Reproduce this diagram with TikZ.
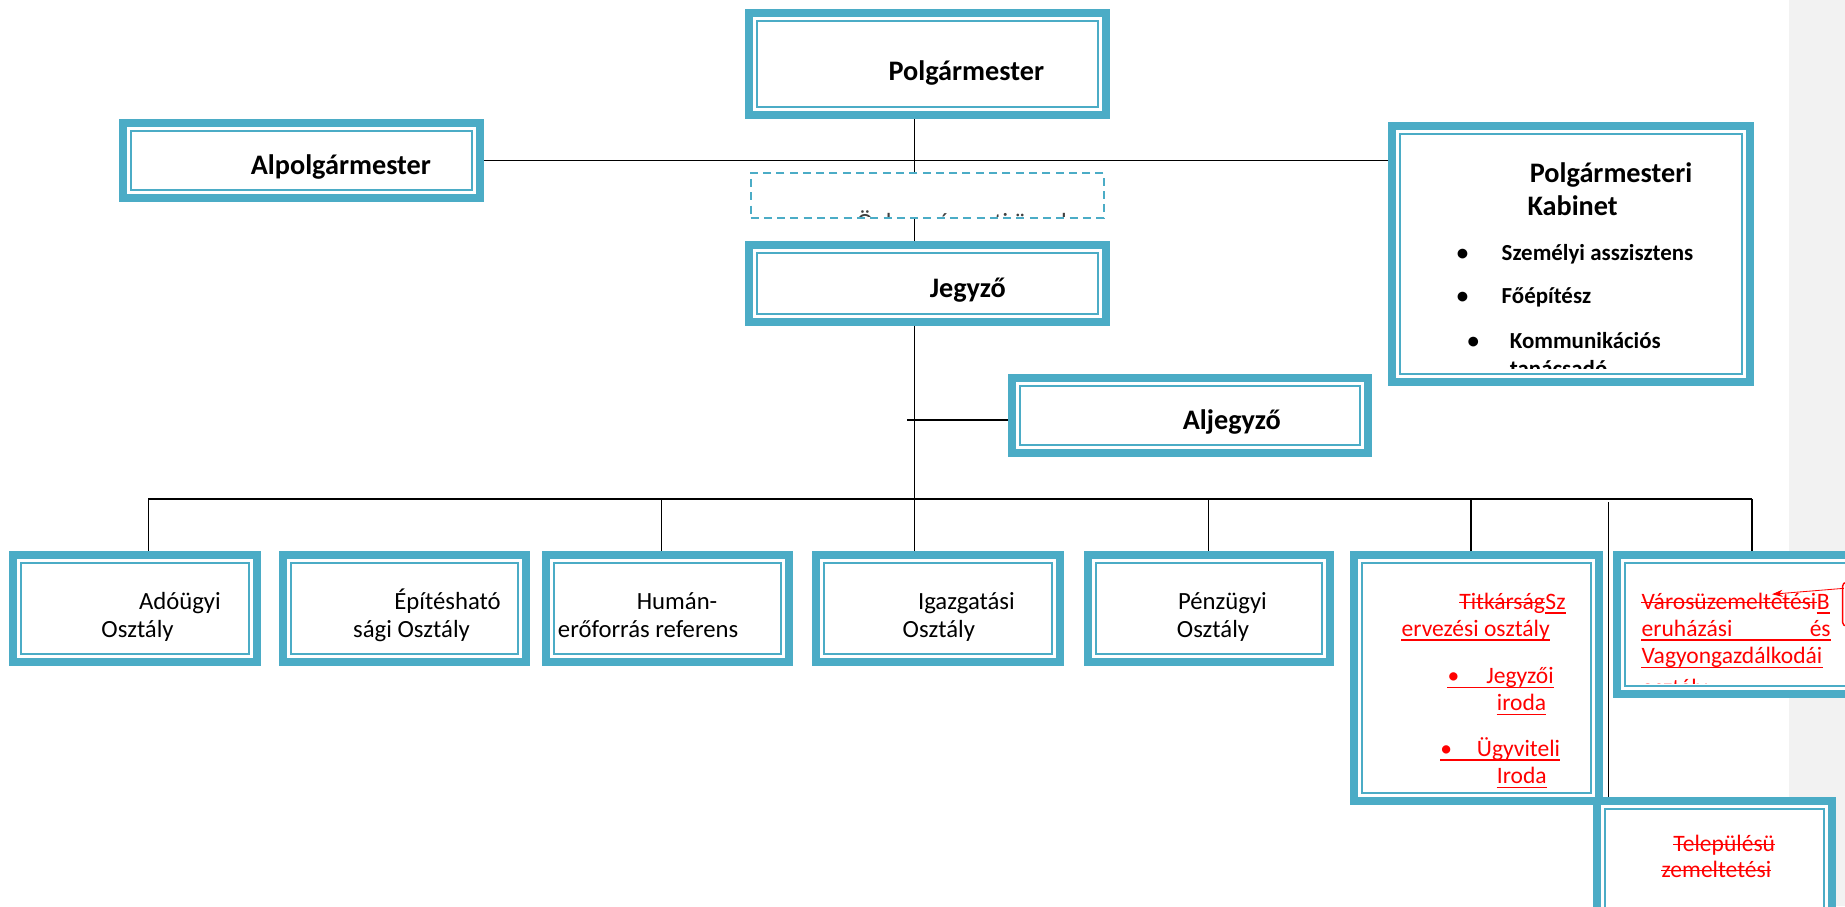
\documentclass[tikz,border=0pt]{standalone}
\usepackage{fontspec}
\setmainfont{Carlito}
\usetikzlibrary{arrows.meta}
\definecolor{teal5}{HTML}{4BACC6}
\definecolor{redc}{HTML}{FF0000}
\definecolor{graybg}{HTML}{F2F2F2}
\definecolor{dashtxt}{HTML}{404040}
\pgfdeclarelayer{bg}
\pgfsetlayers{bg,main}
\newcommand\boxat[5]{\node[obox, minimum width={#4-#2-6.8}, minimum height={#5-#3-6.8}] (#1) at ({(#2+#4)/2},{(#3+#5)/2}) {};}
\newcommand\redul[2]{\draw[redline] ([yshift=-3pt]#1.base west) -- ([yshift=-3pt]#2.base east);}
\newcommand\redso[1]{\draw[redline] ([yshift=6pt]#1.base west) -- ([yshift=6pt]#1.base east);}
\begin{document}
\begin{tikzpicture}[x=1pt,y=-1pt,
  obox/.style={draw=teal5, line width=6.8pt, fill=white, inner sep=0pt, rectangle,
    path picture={\draw[teal5,line width=1.7pt] ([shift={(6.75,6.75)}]path picture bounding box.north west) rectangle ([shift={(-6.75,-6.75)}]path picture bounding box.south east);}},
  dbox/.style={draw=teal5, line width=1.7pt, dash pattern=on 6.8pt off 4.5pt, inner sep=0pt, rectangle, fill=white},
  conn/.style={draw=black, line width=1.2pt},
  lbl/.style={inner sep=0pt, anchor=base west, font=\fontsize{21}{25}\selectfont},
  hd/.style={lbl, font=\fontsize{24}{28}\selectfont\bfseries},
  kb/.style={lbl, font=\fontsize{19.5}{23}\selectfont\bfseries},
  rd/.style={lbl, text=redc, font=\fontsize{20}{24}\selectfont},
  redline/.style={draw=redc, line width=1.1pt}]
\useasboundingbox (0,0) rectangle (1568,770);

% boxes
\boxat{polg}{633}{8}{943}{101}
\boxat{alp}{101}{101}{411}{172}
\boxat{kab}{1180}{104}{1491}{328}
\node[dbox, minimum width=300.3, minimum height=38.3] (dash) at (788,166) {};
\boxat{jeg}{633}{205}{943}{277}
\boxat{alj}{857}{318}{1166}{388}
\boxat{ado}{8}{468}{222}{566}
\boxat{epi}{237}{468}{450}{566}
\boxat{hum}{461}{468}{674}{566}
\boxat{igz}{690}{468}{904}{566}
\boxat{pen}{921}{468}{1134}{566}
\boxat{tit}{1147}{468}{1362}{684}
\boxat{var}{1371}{468}{1582}{593}
\boxat{tel}{1354}{677}{1560}{782}

% background panel and connectors
\begin{pgfonlayer}{bg}
\fill[graybg] (1520,0) rectangle (1568,770);
\coordinate (sp) at (777,0);
\draw[conn] (polg.south -| sp) -- (dash.north -| sp);
\draw[conn] (alp.east) -- (alp.east -| kab.west);
\draw[conn] (dash.south -| sp) -- (jeg.north -| sp);
\draw[conn] (jeg.south -| sp) -- (igz.north -| sp);
\coordinate (stub) at (771,357);
\draw[conn] (stub) -- (stub -| alj.west);
\coordinate (bl) at (126,424);
\coordinate (br) at (1489,424);
\coordinate (b2) at (562,424);
\coordinate (b4) at (1027,424);
\coordinate (b5) at (1250,424);
\coordinate (b6) at (1367,427);
\draw[conn] (bl) -- (br);
\draw[conn] (bl) -- (bl |- ado.north);
\draw[conn] (b2) -- (b2 |- hum.north);
\draw[conn] (b4) -- (b4 |- pen.north);
\draw[conn] (b5) -- (b5 |- tit.north);
\draw[conn] (br) -- (br |- var.north);
\draw[conn] (b6) -- (b6 |- tel.north);
\end{pgfonlayer}

% texts
\node[hd] (tpolg) at (755,68) {Polgármester};
\node[hd] (talp) at (213,148) {Alpolgármester};
\node[hd] (tjeg) at (790,253) {Jegyző};
\node[hd] (talj) at (1005,365) {Aljegyző};

\begin{scope}
\clip (1191,115) rectangle (1480,313);
\node[hd] (tk1) at (1300,155) {Polgármesteri};
\node[hd] (tk2) at (1298,183) {Kabinet};
\node[kb] (kb1) at (1238,221) {•};
\node[kb] (ki1) at (1276,221) {Személyi asszisztens};
\node[kb] (kb2) at (1238,258) {•};
\node[kb] (ki2) at (1276,258) {Főépítész};
\node[kb] (kb3) at (1247,296) {•};
\node[kb] (ki3) at (1283,296) {Kommunikációs};
\node[kb] (ki4) at (1283,320) {tanácsadó};
\end{scope}

\begin{scope}
\clip (639,148) rectangle (937,184);
\node[lbl, text=dashtxt] (tdash) at (728,196) {Önkormányzati ügyek};
\end{scope}

\node[lbl] (a1) at (118,518) {Adóügyi};
\node[lbl] (a2) at (86,542) {Osztály};
\node[lbl] (e1) at (335,518) {Építésható};
\node[lbl] (e2) at (300,542) {sági Osztály};
\node[lbl] (h1) at (541,518) {Humán-};
\node[lbl] (h2) at (474,542) {erőforrás referens};
\node[lbl] (i1) at (780,518) {Igazgatási};
\node[lbl] (i2) at (767,542) {Osztály};
\node[lbl] (p1) at (1001,518) {Pénzügyi};
\node[lbl] (p2) at (1000,542) {Osztály};

% red text: Titkárság box
\node[rd] (r1) at (1240,518) {Titkárság};
\node[rd] (r1b) at (r1.base east) {Sz};
\node[rd] (r2) at (1191,541) {ervezési osztály};
\node[rd] (r3b) at (1230,581) {•};
\node[rd] (r3) at (1263,581) {Jegyzői};
\node[rd] (r4) at (1272,604) {iroda};
\node[rd] (r5b) at (1224,643) {•};
\node[rd] (r5) at (1255,643) {Ügyviteli};
\node[rd] (r6) at (1272,666) {Iroda};
\redso{r1}
\redul{r1b}{r1b}
\redul{r2}{r2}
\redul{r3b}{r3}
\redul{r4}{r4}
\redul{r5b}{r5}
\redul{r6}{r6}

% red text: Városüzemeltetési box
\begin{scope}
\clip (1382,479) rectangle (1568,581);
\node[rd] (v1) at (1395,518) {Városüzemeltetési};
\node[rd] (v1b) at (v1.base east) {B};
\node[rd] (v2) at (1395,541) {eruházási};
\node[rd, anchor=base east] (v2b) at (1556,541) {és};
\node[rd] (v3) at (1395,564) {Vagyongazdálkodái};
\node[rd] (v4) at (1395,591) {osztály};
\redso{v1}
\redul{v1b}{v1b}
\redul{v2}{v2b}
\redul{v3}{v3}
\end{scope}

% red text: Településüzemeltetési box
\node[rd] (t1) at (1422,724) {Településü};
\node[rd] (t2) at (1412,746) {zemeltetési};
\redso{t1}
\redso{t2}

% comment marker
\coordinate (cm) at (1567,500);
\coordinate (ct) at (1506,505);
\draw[redc, line width=0.7pt, -{Stealth[length=9pt,width=6pt]}] (cm) -- (ct);
\draw[redc, line width=1.2pt, rounded corners=3pt] (1585,495) -- (1566,495) -- (1566,532) -- (1585,532);
\end{tikzpicture}
\end{document}
